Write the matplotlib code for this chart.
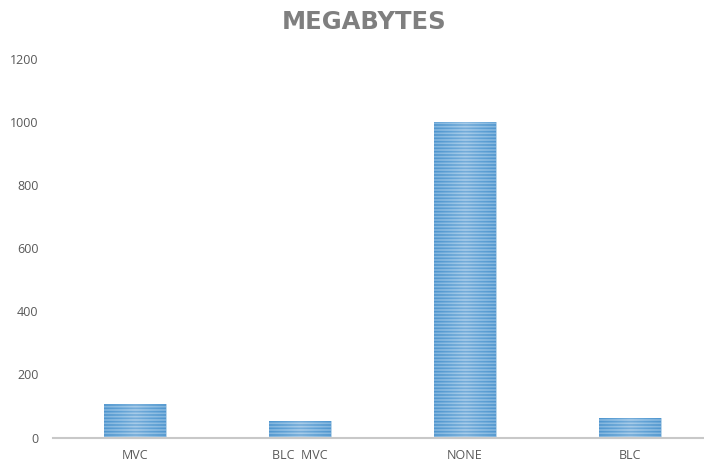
import matplotlib.pyplot as plt
import numpy as np

categories = ['MVC', 'BLC  MVC', 'NONE', 'BLC']
megabytes = [106, 52, 1000, 61]
y_ticks = [0, 200, 400, 600, 800, 1000, 1200]

plt.rcParams['font.family'] = ['Open Sans', 'DejaVu Sans']
plt.rcParams['hatch.linewidth'] = 1.2

W, H = 704, 461
fig = plt.figure(figsize=(W / 100, H / 100), dpi=100)
# axes placed in pixel terms: left edge of plot area, bottom = zero line
left, right, bottom, top = 52.5, 704, 461 - 437.5, 461 - 59
ax = fig.add_axes([left / W, bottom / H, (right - left) / W, (top - bottom) / H])

x = np.arange(len(categories))
bars = ax.bar(x, megabytes, width=0.376, color='#a9cbec', edgecolor='#5b9bd5',
              hatch='-----', linewidth=0, zorder=2)

# soft horizontal gradient inside each bar (lighter towards the middle)
grad = np.abs(np.linspace(-1, 1, 64))[None, :]
for b in bars:
    x0, w, h = b.get_x(), b.get_width(), b.get_height()
    im = ax.imshow(grad, extent=(x0, x0 + w, 0, h), aspect='auto', cmap='Blues',
                   vmin=-1.2, vmax=2.2, alpha=0.35, zorder=3)
    im.set_clip_path(b)

ax.set_xlim(-0.5, -0.5 + (right - left) / 165)
ax.set_ylim(0, 1200)
ax.set_yticks(y_ticks)
ax.set_xticks(x)
ax.set_xticklabels(categories)
ax.tick_params(axis='both', length=0, labelsize=9, colors='#595959')
ax.tick_params(axis='x', pad=8)
ax.tick_params(axis='y', pad=10)
for s in ['top', 'right', 'left']:
    ax.spines[s].set_visible(False)
ax.spines['bottom'].set_color('#c8c8c8')
ax.spines['bottom'].set_linewidth(1.5)
ax.spines['bottom'].set_zorder(4)

fig.text(364 / W, 1 - 22 / H, 'MEGABYTES', ha='center', va='center', fontsize=17.5,
         fontweight='bold', color='#7f7f7f', family='DejaVu Sans')

fig.savefig('out.png', dpi=100)
